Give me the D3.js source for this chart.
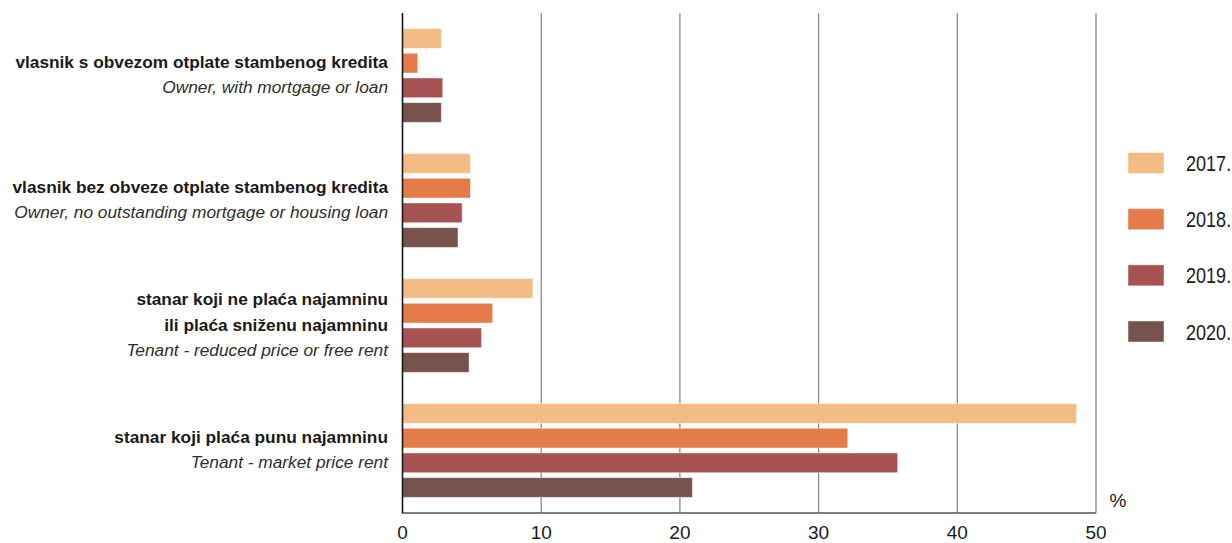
<!DOCTYPE html>
<html>
<head>
<meta charset="utf-8">
<script src="https://cdn.jsdelivr.net/npm/d3@7/dist/d3.min.js"></script>
<style>
  html, body { margin: 0; padding: 0; background: #ffffff; }
  svg { display: block; }
</style>
</head>
<body>
<svg id="chart" width="1232" height="543"></svg>
<script>
// ---- data ----
const categoriesHr = [
  "vlasnik s obvezom otplate stambenog kredita",
  "vlasnik bez obveze otplate stambenog kredita",
  "stanar koji ne plaća najamninu|ili plaća sniženu najamninu",
  "stanar koji plaća punu najamninu"
];
const categoriesEn = [
  "Owner, with mortgage or loan",
  "Owner, no outstanding mortgage or housing loan",
  "Tenant - reduced price or free rent",
  "Tenant - market price rent"
];
const years = ["2017.", "2018.", "2019.", "2020."];
const values2017 = [2.8, 4.9, 9.4, 48.6];
const values2018 = [1.1, 4.9, 6.5, 32.1];
const values2019 = [2.9, 4.3, 5.7, 35.7];
const values2020 = [2.8, 4.0, 4.8, 20.9];
const xTicks = [0, 10, 20, 30, 40, 50];
const unitLabel = "%";

// ---- styles ----
const colors = ["#F4BC85", "#E57B49", "#A75353", "#76524D"];
const series = [values2017, values2018, values2019, values2020];
const FONT = "'Liberation Sans', Arial, sans-serif";

const svg = d3.select("#chart");

const x = d3.scaleLinear().domain([0, 50]).range([402.5, 1096]);
const y = d3.scaleBand().domain(d3.range(categoriesHr.length))
  .range([13, 513]).paddingInner(0.25).paddingOuter(0.125);
const yInner = d3.scaleBand().domain(d3.range(years.length))
  .range([0, y.bandwidth()]).paddingInner(0.2);

// gridlines
svg.append("g").selectAll("line")
  .data(xTicks.filter(t => t > 0))
  .join("line")
  .attr("x1", d => x(d)).attr("x2", d => x(d))
  .attr("y1", 13).attr("y2", 513)
  .attr("stroke", "#8a8a8a").attr("stroke-width", 1.3);

// bars
const groups = svg.append("g").selectAll("g")
  .data(d3.range(categoriesHr.length))
  .join("g")
  .attr("transform", i => `translate(0,${y(i)})`);

groups.selectAll("rect")
  .data(i => series.map((s, k) => ({k, v: s[i]})))
  .join("rect")
  .attr("x", x(0))
  .attr("y", d => yInner(d.k))
  .attr("width", d => x(d.v) - x(0))
  .attr("height", yInner.bandwidth())
  .attr("fill", d => colors[d.k])
  .attr("stroke", "rgba(255,255,255,0.45)")
  .attr("stroke-width", 1);

// axes lines
svg.append("line")
  .attr("x1", x(0)).attr("x2", x(50))
  .attr("y1", 513).attr("y2", 513)
  .attr("stroke", "#555").attr("stroke-width", 1.5);
svg.append("line")
  .attr("x1", x(0)).attr("x2", x(0))
  .attr("y1", 13).attr("y2", 513.5)
  .attr("stroke", "#1a1a1a").attr("stroke-width", 1.6);

// x tick labels
svg.append("g").selectAll("text")
  .data(xTicks)
  .join("text")
  .attr("x", d => x(d))
  .attr("y", 539)
  .attr("text-anchor", "middle")
  .attr("font-family", FONT)
  .attr("font-size", 19)
  .attr("fill", "#1a1a1a")
  .text(d => d);

svg.append("text")
  .attr("x", 1118).attr("y", 507)
  .attr("text-anchor", "middle")
  .attr("font-family", FONT)
  .attr("font-size", 19)
  .attr("fill", "#1a1a1a")
  .text(unitLabel);

// category labels
const lineH = 25.5;
categoriesHr.forEach((lab, i) => {
  const lines = lab.split("|").map(t => ({t, it: false}));
  lines.push({t: categoriesEn[i], it: true});
  const c = y(i) + y.bandwidth() / 2;
  const first = c + 5 - (lines.length - 1) * lineH / 2;
  svg.append("g").selectAll("text")
    .data(lines)
    .join("text")
    .attr("x", 388)
    .attr("y", (d, j) => first + j * lineH)
    .attr("text-anchor", "end")
    .attr("font-family", FONT)
    .attr("font-size", 17.3)
    .attr("font-weight", d => d.it ? "normal" : "bold")
    .attr("font-style", d => d.it ? "italic" : "normal")
    .attr("fill", d => d.it ? "#2e2e2e" : "#1a1a1a")
    .text(d => d.t);
});

// legend
const ly = d3.scaleLinear().domain([0, 3]).range([152.5, 321]);
const leg = svg.append("g").selectAll("g")
  .data(years)
  .join("g")
  .attr("transform", (d, i) => `translate(1128,${ly(i)})`);
leg.append("rect")
  .attr("width", 36).attr("height", 21)
  .attr("fill", (d, i) => colors[i])
  .attr("stroke", "rgba(255,255,255,0.45)");
leg.append("text")
  .attr("transform", "translate(58,18.5) scale(0.84,1)")
  .attr("font-family", FONT)
  .attr("font-size", 21.5)
  .attr("fill", "#1a1a1a")
  .text(d => d);
</script>
</body>
</html>
